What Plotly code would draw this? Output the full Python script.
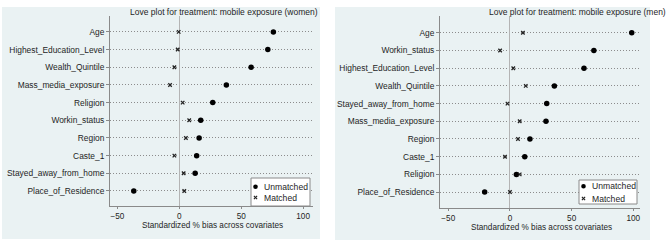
import plotly.graph_objects as go

# Women panel
cov_w = ["Age", "Highest_Education_Level", "Wealth_Quintile", "Mass_media_exposure",
         "Religion", "Workin_status", "Region", "Caste_1", "Stayed_away_from_home",
         "Place_of_Residence"]
unmatched_w = [76, 71.5, 58, 38, 27, 17.3, 16, 14, 12.8, -36.8]
matched_w = [-0.5, -1.3, -4, -7.5, 2.7, 8, 5.3, -4, 3.5, 4]

# Men panel
cov_m = ["Age", "Workin_status", "Highest_Education_Level", "Wealth_Quintile",
         "Stayed_away_from_home", "Mass_media_exposure", "Region", "Caste_1",
         "Religion", "Place_of_Residence"]
unmatched_m = [98.7, 68, 60, 36, 29.8, 29.2, 16.2, 12, 5.2, -20.5]
matched_m = [10.5, -8, 2.7, 12.8, -2, 7.9, 6.5, -4, 7.9, 0]

x_ticks = [-50, 0, 50, 100]
titles = ["Love plot for treatment: mobile exposure (women)",
          "Love plot for treatment: mobile exposure (men)"]
x_title = "Standardized % bias across covariates"
legend_labels = ["Unmatched", "Matched"]

W, H = 669, 248
FONT = "Liberation Sans, Arial, sans-serif"
BG = "#EAF2F3"
TXT = "#1e1e1e"
AX = "#8a8a8a"

def px(x):
    return x / W

def py(y):
    return 1 - y / H

fig = go.Figure()

panels = [
    (cov_w, unmatched_w, matched_w, "x", "y"),
    (cov_m, unmatched_m, matched_m, "x2", "y2"),
]
for cov, um, m, xa, ya in panels:
    fig.add_trace(go.Scatter(x=um, y=cov, mode="markers", name=legend_labels[0],
                             marker=dict(symbol="circle", size=5.5, color="#000000"),
                             xaxis=xa, yaxis=ya, showlegend=False, cliponaxis=False,
                             hoverinfo="skip"))
    fig.add_trace(go.Scatter(x=m, y=cov, mode="markers", name=legend_labels[1],
                             marker=dict(symbol="x-thin", size=3.5,
                                         line=dict(color="#222222", width=1.3)),
                             xaxis=xa, yaxis=ya, showlegend=False, cliponaxis=False,
                             hoverinfo="skip"))

axis_common = dict(
    showline=True, linecolor=AX, linewidth=1,
    ticks="outside", ticklen=3, tickcolor=AX,
    tickfont=dict(family=FONT, size=8.4, color=TXT),
)

xcommon = dict(axis_common, range=[-56, 108], tickvals=x_ticks, showgrid=False,
               zeroline=True, zerolinecolor="#b4b4b4", zerolinewidth=1, ticklen=2,
               tickfont=dict(family=FONT, size=8.2, color=TXT))
ycommon = dict(axis_common, type="category", showgrid=True, gridcolor="#8c8c8c",
               griddash="1px,2px", gridwidth=1, zeroline=False)

shapes = [
    dict(type="rect", xref="paper", yref="paper", x0=px(2), x1=px(320),
         y0=py(239), y1=py(7), fillcolor=BG, line=dict(width=0), layer="below"),
    dict(type="rect", xref="paper", yref="paper", x0=px(335), x1=px(650),
         y0=py(240), y1=py(7), fillcolor=BG, line=dict(width=0), layer="below"),
]
annotations = [
    dict(text=titles[0], xref="paper", yref="paper", x=px(320), y=py(12),
         xanchor="right", yanchor="middle", showarrow=False,
         font=dict(family=FONT, size=8.5, color=TXT)),
    dict(text=titles[1], xref="paper", yref="paper", x=px(668), y=py(12),
         xanchor="right", yanchor="middle", showarrow=False,
         font=dict(family=FONT, size=8.5, color=TXT)),
    # x-axis titles
    dict(text=x_title, xref="paper", yref="paper", x=px(213), y=py(225.5),
         xanchor="center", yanchor="middle", showarrow=False,
         font=dict(family=FONT, size=8.2, color=TXT)),
    dict(text=x_title, xref="paper", yref="paper", x=px(541), y=py(227.5),
         xanchor="center", yanchor="middle", showarrow=False,
         font=dict(family=FONT, size=8.2, color=TXT)),
]

# Legend boxes (Stata-style compact legends)
legend_boxes = [
    dict(x0=251, x1=310, y0=178, y1=206, sx=255.5, r1=186.7, r2=197.5, tx=262),
    dict(x0=579, x1=637, y0=180, y1=204, sx=583.5, r1=186.3, r2=198.5, tx=590),
]
for b in legend_boxes:
    shapes.append(dict(type="rect", xref="paper", yref="paper",
                       x0=px(b["x0"]), x1=px(b["x1"]), y0=py(b["y1"]), y1=py(b["y0"]),
                       fillcolor="white", line=dict(color=AX, width=1)))
    r = 2.3
    shapes.append(dict(type="circle", xref="paper", yref="paper",
                       x0=px(b["sx"] - r), x1=px(b["sx"] + r),
                       y0=py(b["r1"] + r), y1=py(b["r1"] - r),
                       fillcolor="#000000", line=dict(width=0)))
    d = 1.6
    for sgn in (1, -1):
        shapes.append(dict(type="line", xref="paper", yref="paper",
                           x0=px(b["sx"] - d), x1=px(b["sx"] + d),
                           y0=py(b["r2"] - sgn * d), y1=py(b["r2"] + sgn * d),
                           line=dict(color="#222222", width=1.2)))
    for lab, ry in zip(legend_labels, (b["r1"], b["r2"])):
        annotations.append(dict(text=lab, xref="paper", yref="paper",
                                x=px(b["tx"]), y=py(ry), xanchor="left",
                                yanchor="middle", showarrow=False,
                                font=dict(family=FONT, size=8.6, color=TXT)))

fig.update_layout(
    width=W, height=H,
    margin=dict(l=0, r=0, t=0, b=0),
    paper_bgcolor="white", plot_bgcolor="white",
    font=dict(family=FONT, size=8, color=TXT),
    showlegend=False,
    hovermode=False,
    xaxis=dict(xcommon, domain=[px(110), px(313)], anchor="y"),
    yaxis=dict(ycommon, domain=[py(206), py(16)], anchor="x",
               categoryorder="array", categoryarray=cov_w, range=[9.85, -0.9]),
    xaxis2=dict(xcommon, domain=[px(440), px(640)], anchor="y2", range=[-56.7, 105.4]),
    yaxis2=dict(ycommon, domain=[py(208), py(16)], anchor="x2",
                categoryorder="array", categoryarray=cov_m, range=[9.9, -0.95]),
    shapes=shapes,
    annotations=annotations,
)

fig.write_html("out.html", config={"displayModeBar": False, "staticPlot": True},
               post_script="document.body.style.margin='0';")
